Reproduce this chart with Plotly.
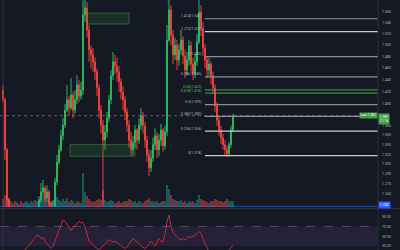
import math
import plotly.graph_objects as go

# ---------------- data ----------------
open_first = 1.423
close = [1.407, 1.327, 1.251, 1.229,
         1.225, 1.220, 1.215, 1.222, 1.218, 1.212, 1.208, 1.215, 1.220, 1.226, 1.230, 1.235, 1.232, 1.236,
         1.251, 1.263, 1.269, 1.254, 1.263, 1.245, 1.234, 1.240,
         1.278, 1.308, 1.327, 1.349, 1.366, 1.390, 1.407,
         1.394, 1.415, 1.390, 1.407, 1.432, 1.413, 1.423,
         1.554, 1.567, 1.527, 1.492, 1.483, 1.471, 1.454, 1.427, 1.390, 1.366,
         1.342, 1.355, 1.377, 1.407, 1.447, 1.471, 1.464, 1.454, 1.437, 1.420,
         1.407, 1.387, 1.366, 1.342, 1.327, 1.338, 1.358, 1.342, 1.366, 1.381,
         1.365, 1.342, 1.319, 1.299, 1.314, 1.335, 1.349, 1.327, 1.342, 1.358, 1.333, 1.355,
         1.509, 1.563, 1.518, 1.483, 1.500, 1.474, 1.492, 1.509,
         1.481, 1.457, 1.474, 1.499, 1.467, 1.450, 1.471, 1.506, 1.559, 1.530,
         1.495, 1.474, 1.457, 1.467, 1.447, 1.427, 1.397, 1.374, 1.358, 1.346,
         1.335, 1.327, 1.321, 1.335, 1.358, 1.381]
high = [1.432, 1.410, 1.330, 1.254,
        1.233, 1.228, 1.224, 1.226, 1.227, 1.221, 1.216, 1.219, 1.224, 1.230, 1.234, 1.238, 1.239, 1.240,
        1.257, 1.276, 1.281, 1.272, 1.273, 1.266, 1.248, 1.251,
        1.284, 1.319, 1.335, 1.358, 1.377, 1.400, 1.432,
        1.413, 1.443, 1.420, 1.423, 1.448, 1.440, 1.437,
        1.581, 1.591, 1.578, 1.536, 1.500, 1.495, 1.478, 1.460, 1.433, 1.398,
        1.374, 1.366, 1.387, 1.415, 1.457, 1.488, 1.483, 1.478, 1.464, 1.443,
        1.430, 1.413, 1.394, 1.374, 1.355, 1.349, 1.366, 1.361, 1.377, 1.394,
        1.387, 1.371, 1.349, 1.327, 1.327, 1.346, 1.361, 1.355, 1.352, 1.368, 1.361, 1.365,
        1.536, 1.591, 1.572, 1.527, 1.513, 1.509, 1.502, 1.527,
        1.516, 1.492, 1.488, 1.509, 1.506, 1.478, 1.485, 1.520, 1.591, 1.572,
        1.541, 1.502, 1.481, 1.478, 1.471, 1.454, 1.433, 1.403, 1.381, 1.365,
        1.352, 1.342, 1.333, 1.339, 1.365, 1.384]
low = [1.403, 1.311, 1.241, 1.215,
       1.221, 1.215, 1.210, 1.212, 1.214, 1.207, 1.203, 1.205, 1.212, 1.217, 1.222, 1.226, 1.228, 1.229,
       1.230, 1.247, 1.257, 1.247, 1.250, 1.237, 1.225, 1.229,
       1.236, 1.273, 1.304, 1.324, 1.342, 1.361, 1.387,
       1.382, 1.390, 1.377, 1.384, 1.400, 1.403, 1.407,
       1.415, 1.541, 1.513, 1.471, 1.460, 1.454, 1.440, 1.413, 1.377, 1.352,
       1.244, 1.327, 1.346, 1.371, 1.400, 1.440, 1.450, 1.437, 1.420, 1.407,
       1.390, 1.374, 1.355, 1.330, 1.317, 1.319, 1.330, 1.327, 1.336, 1.358,
       1.352, 1.330, 1.308, 1.287, 1.293, 1.308, 1.327, 1.314, 1.317, 1.333, 1.324, 1.327,
       1.349, 1.506, 1.500, 1.467, 1.474, 1.457, 1.464, 1.483,
       1.467, 1.443, 1.447, 1.465, 1.454, 1.440, 1.443, 1.464, 1.502, 1.516,
       1.481, 1.460, 1.443, 1.447, 1.433, 1.417, 1.387, 1.365, 1.349, 1.336,
       1.327, 1.319, 1.316, 1.317, 1.330, 1.355]
volume = [1.2, 1.8, 1.5, 1.3,
          0.8, 0.6, 0.9, 0.7, 0.5, 0.8, 0.6, 0.7, 0.9, 0.6, 0.8, 0.7, 1.0, 0.8,
          1.2, 1.8, 1.6, 1.4, 1.0, 1.2, 0.9, 0.8,
          2.5, 1.4, 1.0, 0.9, 1.1, 0.8, 1.3,
          0.7, 1.0, 0.8, 0.6, 0.9, 0.7, 0.6,
          5.0, 2.2, 1.6, 1.2, 0.8, 0.7, 0.9, 1.0, 1.1, 1.0,
          2.4, 1.0, 0.7, 0.8, 1.0, 0.9, 0.6, 0.7, 0.8, 0.6,
          0.7, 0.8, 0.9, 1.1, 1.0, 0.7, 0.8, 0.6, 0.9, 0.7,
          0.6, 0.8, 1.0, 1.3, 0.9, 0.8, 0.7, 0.9, 0.6, 0.7, 0.8, 0.9,
          3.2, 2.6, 1.8, 1.2, 1.0, 0.9, 0.8, 1.0,
          0.7, 0.8, 0.6, 0.9, 0.7, 0.8, 0.6, 1.0, 1.8, 1.2,
          1.0, 0.8, 0.7, 0.6, 0.8, 0.9, 1.1, 1.0, 0.8, 0.9,
          0.7, 0.8, 1.2, 0.9, 0.8, 0.9]
rsi = [18, 15, 10, 8, 10, 12, 14, 15, 17, 18, 20, 22,
       27, 32, 36, 40, 47, 53, 50, 45, 48, 40, 35, 30, 25, 30, 40, 50, 60, 72,
       83, 80, 75, 68, 62, 66, 72, 76, 80, 77,
       78, 70, 55, 40, 37, 33, 28, 25, 23, 26,
       30, 35, 40, 43, 41, 38, 40, 37, 33, 30,
       28, 25, 28, 35, 40, 45, 42, 38, 35, 30,
       27, 25, 30, 33, 40, 35, 30, 38, 45, 40,
       38, 55, 80, 93, 70, 58, 53, 48, 45, 43,
       45, 42, 46, 50, 47, 50, 53, 55, 60, 55,
       45, 35, 25, 18, 15, 12, 10, 9, 8, 8,
       9, 10, 12, 22, 26, 32]
bar_index = list(range(len(close)))

price_ticks = [1.58, 1.56, 1.54, 1.52, 1.50, 1.48, 1.46, 1.44, 1.42, 1.40,
               1.365, 1.35, 1.335, 1.32, 1.305, 1.29, 1.275, 1.26]
rsi_ticks = [90, 70, 50, 30]
rsi_upper, rsi_lower = 70, 30

fib_low, fib_high = 1.318, 1.480
fib_ratios = [0, 0.236, 0.382, 0.5, 0.618, 0.65, 0.786, 1, 1.272, 1.414]
fib_start_bar = 101

zone_start = [42, 33.5]
zone_end = [63, 66]
zone_top = [1.5575, 1.335]
zone_bottom = [1.5375, 1.317]

blue_line_price = 1.242
last_price = close[-1]
countdown = "11:16"

# ---------------- style ----------------
BG = "#151924"
INC = "#2db55d"
DEC = "#e8413c"
GRID = "#2a2e39"
TXT = "#b2b5be"
X_MIN, X_MAX = -1.5, 187.5
fib_green = {0.618, 0.65}

opens = [open_first] + close[:-1]

fig = go.Figure()

# zones
for xs, xe, yt, yb in zip(zone_start, zone_end, zone_top, zone_bottom):
    fig.add_trace(go.Scatter(x=[xs, xe, xe, xs, xs], y=[yt, yt, yb, yb, yt],
                             mode="lines", fill="toself",
                             fillcolor="rgba(56,142,60,0.18)",
                             line=dict(color="rgba(76,175,80,0.45)", width=1),
                             hoverinfo="skip", showlegend=False, xaxis="x", yaxis="y"))

# fib lines
for r in fib_ratios:
    p = fib_low + r * (fib_high - fib_low)
    col = "rgba(76,175,80,0.75)" if r in fib_green else ("#c8cbd2" if r in (1.272, 0.236, 0) else "#8d909a")
    fig.add_trace(go.Scatter(x=[fib_start_bar, X_MAX], y=[p, p], mode="lines",
                             line=dict(color=col, width=1.2),
                             hoverinfo="skip", showlegend=False, xaxis="x", yaxis="y"))

# current price dotted line and blue horizontal line
fig.add_trace(go.Scatter(x=[X_MIN, X_MAX], y=[last_price, last_price], mode="lines",
                         line=dict(color="rgba(178,181,190,0.45)", width=1, dash="dot"),
                         hoverinfo="skip", showlegend=False, xaxis="x", yaxis="y"))
fig.add_trace(go.Scatter(x=[X_MIN, X_MAX], y=[blue_line_price, blue_line_price], mode="lines",
                         line=dict(color="rgba(41,98,255,0.6)", width=1),
                         hoverinfo="skip", showlegend=False, xaxis="x", yaxis="y"))

# volume
vol_colors = ["rgba(38,166,154,0.45)" if c >= o else "rgba(239,83,80,0.45)" for o, c in zip(opens, close)]
fig.add_trace(go.Bar(x=bar_index, y=volume, marker=dict(color=vol_colors, line=dict(width=0)),
                     width=0.8, hoverinfo="skip", showlegend=False, xaxis="x", yaxis="y3"))

# candles
fig.add_trace(go.Candlestick(x=bar_index, open=opens, high=high, low=low, close=close,
                             increasing=dict(line=dict(color=INC, width=1), fillcolor=INC),
                             decreasing=dict(line=dict(color=DEC, width=1), fillcolor=DEC),
                             whiskerwidth=0, showlegend=False, hoverinfo="skip",
                             xaxis="x", yaxis="y"))

# RSI
fig.add_trace(go.Scatter(x=bar_index, y=rsi, mode="lines",
                         line=dict(color="#c62b35", width=1),
                         hoverinfo="skip", showlegend=False, xaxis="x2", yaxis="y2"))

shapes = [
    dict(type="rect", xref="paper", yref="y2", x0=0, x1=0.945, y0=rsi_lower, y1=rsi_upper,
         fillcolor="rgba(126,87,194,0.14)", line=dict(width=0), layer="below"),
    dict(type="line", xref="paper", yref="y2", x0=0, x1=0.945, y0=rsi_upper, y1=rsi_upper,
         line=dict(color="rgba(120,123,134,0.55)", width=1, dash="dash")),
    dict(type="line", xref="paper", yref="paper", x0=0, x1=1, y0=0.166, y1=0.166,
         line=dict(color=GRID, width=1.5)),
    dict(type="line", xref="paper", yref="paper", x0=0.945, x1=0.945, y0=0, y1=1,
         line=dict(color=GRID, width=1)),
    dict(type="line", xref="paper", yref="paper", x0=0.008, x1=0.008, y0=0, y1=1,
         line=dict(color="rgba(60,65,80,0.6)", width=1)),
]

annotations = []
for r in fib_ratios:
    p = fib_low + r * (fib_high - fib_low)
    col = "#5cbf60" if r in fib_green else TXT
    annotations.append(dict(x=fib_start_bar, y=math.log10(p), xref="x", yref="y",
                            text=f"{r:g}({p:.3f})", showarrow=False, xanchor="right",
                            yanchor="middle", yshift=2.5, xshift=-1,
                            font=dict(size=3.6, color=col, family="Roboto")))
annotations.append(dict(x=0.946, y=math.log10(last_price), xref="paper", yref="y",
                        text=f"{last_price:.3f}<br>{countdown}", showarrow=False,
                        xanchor="left", yanchor="top", yshift=3, bgcolor="#43a047",
                        borderpad=0.5, font=dict(size=3.6, color="white", family="Roboto")))
annotations.append(dict(x=0.944, y=math.log10(last_price), xref="paper", yref="y",
                        text=f"Last {last_price:.3f}", showarrow=False,
                        xanchor="right", yanchor="middle", yshift=0.5, bgcolor="#43a047",
                        borderpad=0.3, font=dict(size=3.4, color="white", family="Roboto")))
annotations.append(dict(x=0.946, y=math.log10(blue_line_price), xref="paper", yref="y",
                        text=f"{blue_line_price:.3f}", showarrow=False,
                        xanchor="left", yanchor="middle", yshift=1, bgcolor="#2962ff",
                        borderpad=0.8, font=dict(size=3.6, color="white", family="Roboto")))

fig.update_layout(
    width=400, height=250, autosize=False,
    margin=dict(l=0, r=0, t=0, b=0),
    paper_bgcolor=BG, plot_bgcolor=BG,
    showlegend=False, bargap=0,
    xaxis=dict(domain=[0, 0.945], range=[X_MIN, X_MAX], showticklabels=False, showgrid=False,
               zeroline=False, rangeslider=dict(visible=False), anchor="y", fixedrange=True),
    xaxis2=dict(domain=[0, 0.945], range=[X_MIN, X_MAX], showticklabels=False, showgrid=False,
                zeroline=False, anchor="y2", matches="x"),
    yaxis=dict(domain=[0.172, 1], type="log",
               range=[math.log10(1.241), math.log10(1.5814)],
               side="right", anchor="x", tickvals=price_ticks,
               ticktext=[f"{v:.3f}" for v in price_ticks], ticks="",
               ticklabelstandoff=3, showgrid=False, zeroline=False, automargin=False,
               tickfont=dict(size=3.6, color=TXT, family="Roboto")),
    yaxis3=dict(overlaying="y", range=[0, 30], visible=False, anchor="x"),
    yaxis2=dict(domain=[0, 0.164], range=[22, 105.4], side="right", anchor="x2",
                tickvals=rsi_ticks, ticktext=[f"{v:.2f}" for v in rsi_ticks], ticks="",
                ticklabelstandoff=3, showgrid=False, zeroline=False, automargin=False,
                tickfont=dict(size=3.6, color=TXT, family="Roboto")),
    shapes=shapes, annotations=annotations,
)

fig.write_html("out.html", config=dict(displayModeBar=False))
